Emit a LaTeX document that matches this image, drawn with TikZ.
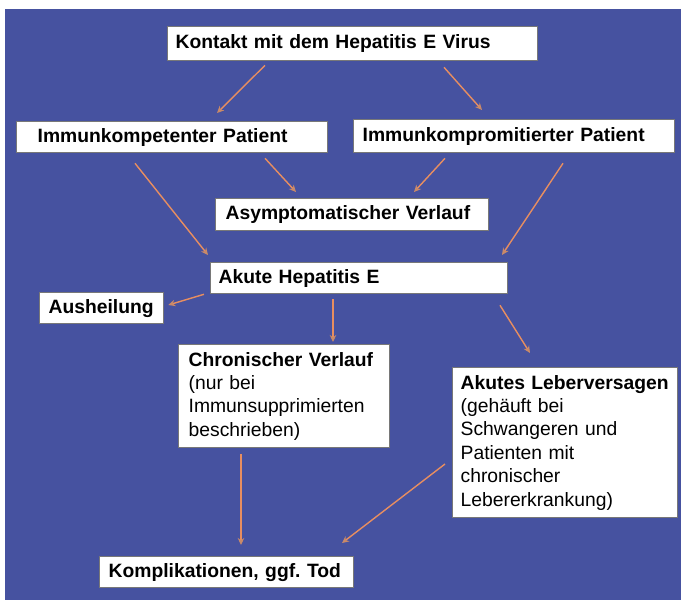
\documentclass[tikz,border=0pt]{standalone}
\usepackage{fontspec}
\setmainfont{Liberation Sans}
\usetikzlibrary{calc,arrows.meta}
\frenchspacing
\definecolor{bgblue}{RGB}{70,82,160}
\definecolor{arrowor}{RGB}{232,142,96}
\definecolor{boxgray}{RGB}{120,120,120}
\tikzset{
  box/.style={draw=boxgray, fill=white, line width=1.3pt, anchor=north west,
    align=left, inner ysep=0pt, font=\fontsize{19.3}{23.4}\selectfont},
  conn/.style={draw=arrowor, line width=1.4pt,
    -{Stealth[length=7pt,width=6.5pt,fill=arrowor,color=arrowor!70!gray]}},
}
\newcommand{\bx}[7]{% name, x, y, W, H, pad, text
  \pgfmathsetmacro{\tw}{#4-2*#6}
  \node[box, minimum width=#4pt, minimum height=#5pt, inner xsep=#6pt,
        text width=\tw pt] (#1) at (#2,#3) {#7};}
\begin{document}
\begin{tikzpicture}[x=1pt,y=-1pt]
\useasboundingbox (0,0) rectangle (681,600);
\fill[bgblue] (5,9) rectangle (681,600);
\bx{kontakt}{167}{26}{370}{34}{8}{\textbf{Kontakt mit dem Hepatitis E Virus}}
\bx{ikomp}{16}{121}{311}{31}{21}{\textbf{Immunkompetenter Patient}}
\bx{ikompr}{353}{119}{321}{33}{9}{\textbf{Immunkompromitierter Patient}}
\bx{asym}{215}{198}{273}{32}{10}{\textbf{Asymptomatischer Verlauf}}
\bx{akute}{210}{262}{297}{31}{8}{\textbf{Akute Hepatitis E}}
\bx{aush}{39}{292}{124}{31}{9}{\textbf{Ausheilung}}
\bx{chron}{178}{344}{211}{103}{10}{\textbf{Chronischer Verlauf}\\(nur bei\\Immunsupprimierten\\beschrieben)}
\bx{leber}{452}{367}{225}{150}{8}{\textbf{Akutes Leberversagen}\\(gehäuft bei\\Schwangeren und\\Patienten mit\\chronischer\\Lebererkrankung)}
\bx{kompl}{99}{556}{254}{31}{9}{\textbf{Komplikationen, ggf. Tod}}
\draw[conn] ($(kontakt.south west)+(98,4)$) -- ($(ikomp.north west)+(201,-8)$);
\draw[conn] ($(kontakt.south west)+(277,6)$) -- ($(ikompr.north west)+(129,-9)$);
\draw[conn] ($(ikomp.south west)+(249,5)$) -- ($(asym.north west)+(81,-6)$);
\draw[conn] ($(ikompr.south west)+(92,5)$) -- ($(asym.north west)+(199,-6)$);
\draw[conn] ($(ikomp.south west)+(119,10)$) -- ($(akute.north west)+(-2,-7)$);
\draw[conn] ($(ikompr.south west)+(210,10)$) -- ($(akute.north west)+(292,-7)$);
\draw[conn] ($(akute.south west)+(-6,0)$) -- ($(aush.north east)+(4,13)$);
\draw[conn] ($(akute.south west)+(123,5)$) -- ($(chron.north west)+(155,-2)$);
\draw[conn] ($(akute.south west)+(290,11)$) -- ($(leber.north west)+(78,-14)$);
\draw[conn] ($(chron.south west)+(63,6)$) -- ($(kompl.north west)+(142,-11)$);
\draw[conn] ($(leber.north west)+(-7,97)$) -- ($(kompl.north west)+(243,-13)$);
\end{tikzpicture}
\end{document}
